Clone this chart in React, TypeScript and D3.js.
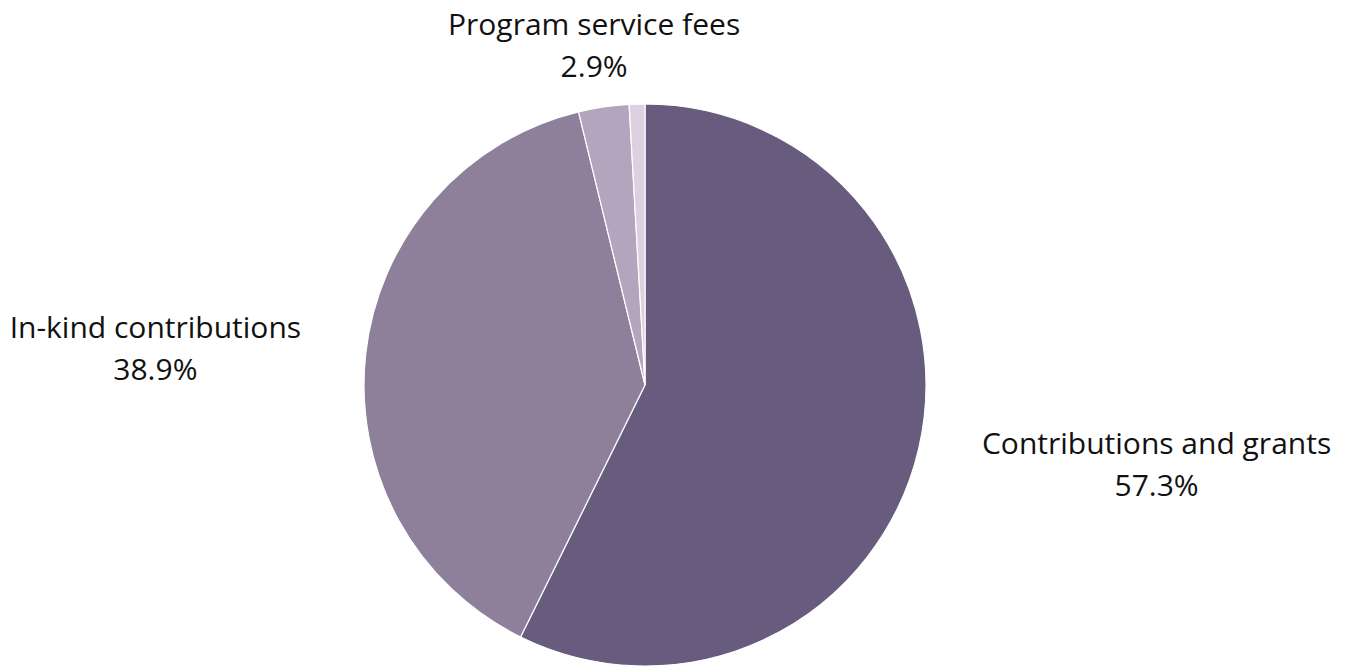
import React, { useEffect, useRef } from "react";
import * as d3 from "d3";

const categories = ["Contributions and grants", "In-kind contributions", "Program service fees", "Other"];
const values = [57.3, 38.9, 2.9, 0.9];
const colors = ["#675b7e", "#8e7f9b", "#b3a5bd", "#dcd0e1"];

const W = 1346;
const H = 667;

export default function App() {
  const ref = useRef<SVGSVGElement>(null);

  useEffect(() => {
    document.body.style.margin = "0";
    const svg = d3.select(ref.current);
    svg.selectAll("*").remove();

    const cx = 645;
    const cy = 385;
    const r = 281;
    const labelR = 346;
    const vGap = 18;
    const fontSize = 30;
    const lineH = 42;

    const data = categories.map((c, i) => ({ name: c, value: values[i], color: colors[i] }));
    const pie = d3.pie<any>().sort(null).value((d: any) => d.value);
    const arcs = pie(data);
    const arc = d3.arc<any>().innerRadius(0).outerRadius(r);

    const g = svg.append("g").attr("transform", `translate(${cx},${cy})`);
    g.selectAll("path")
      .data(arcs)
      .join("path")
      .attr("d", arc as any)
      .attr("fill", (d: any) => d.data.color)
      .attr("stroke", "#ffffff")
      .attr("stroke-width", 1.2);

    arcs.forEach((a: any) => {
      if (a.data.value < 2) return;
      const mid = (a.startAngle + a.endAngle) / 2;
      const s = Math.sin(mid);
      const c = -Math.cos(mid);
      const px = labelR * s;
      const py = labelR * c;
      const t = g
        .append("text")
        .attr("font-family", "'Open Sans', sans-serif")
        .attr("font-size", fontSize)
        .attr("fill", "#111111")
        .attr("text-anchor", "middle");
      t.append("tspan").attr("x", 0).attr("dy", 0).text(a.data.name);
      t.append("tspan").attr("x", 0).attr("dy", lineH).text(`${a.data.value.toFixed(1)}%`);
      const bb = (t.node() as SVGTextElement).getBBox();
      const w = bb.width;
      const h = bb.height;
      const shift = Math.abs(s) > 0.5 ? Math.sign(s) * (w / 2) : 0;
      const bcY = bb.y + h / 2;
      const tx = px + shift;
      let centerY = py;
      if (Math.abs(c) > 0.5) {
        centerY = Math.sign(c) * (r + vGap + h / 2);
      }
      const ty = centerY - bcY;
      t.attr("transform", `translate(${tx},${ty})`);
    });
  }, []);

  return <svg ref={ref} width={W} height={H} style={{ display: "block", background: "#ffffff" }} />;
}
